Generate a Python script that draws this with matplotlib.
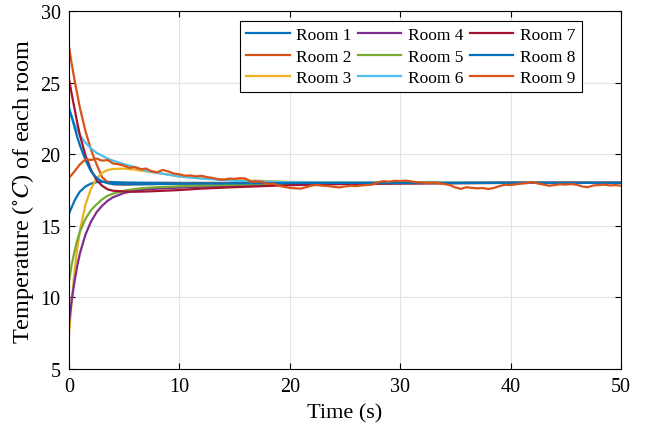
import numpy as np
import matplotlib
matplotlib.use("Agg")
import matplotlib.pyplot as plt

plt.rcParams['font.family'] = ['Liberation Serif', 'DejaVu Serif']
plt.rcParams['mathtext.fontset'] = 'stix'

# ------------------------------------------------------------
# Data
# ------------------------------------------------------------
t_smooth = [0, 0.25, 0.5, 0.75, 1, 1.5, 2, 2.5, 3, 3.5, 4, 5, 6, 7, 8,
            10, 12, 15, 20, 25, 30, 40, 50]

room1 = [15.85, 16.3, 16.75, 17.1, 17.4, 17.75, 17.95, 18.05, 18.08, 18.07,
         18.05, 18.03, 18.02, 18.01, 18.01, 18.0, 18.0, 18.0, 18.0, 18.0,
         18.0, 18.0, 18.0]
room2 = [27.5, 26.3, 25.2, 24.2, 23.2, 21.6, 20.3, 19.3, 18.4, 18.05,
         17.9, 17.88, 17.9, 17.91, 17.93, 17.95, 17.96, 17.98, 18.0, 18.0,
         18.0, 18.0, 18.0]
room3 = [7.4, 9.8, 11.8, 13.4, 14.7, 16.5, 17.6, 18.3, 18.7, 18.9,
         18.97, 19.0, 18.92, 18.8, 18.7, 18.45, 18.33, 18.2, 18.07, 18.03,
         18.01, 18.0, 18.0]
room4 = [8.2, 9.8, 11.1, 12.2, 13.1, 14.4, 15.3, 15.95, 16.4, 16.75,
         17.0, 17.3, 17.45, 17.55, 17.6, 17.67, 17.73, 17.8, 17.88, 17.94,
         17.97, 18.0, 18.0]
room5 = [11.1, 12.3, 13.2, 14.0, 14.6, 15.5, 16.1, 16.5, 16.85, 17.1,
         17.25, 17.45, 17.58, 17.65, 17.7, 17.76, 17.81, 17.87, 17.93, 17.96,
         17.98, 18.0, 18.0]
room6 = [23.2, 22.6, 22.1, 21.7, 21.3, 20.8, 20.4, 20.1, 19.9, 19.7,
         19.55, 19.3, 19.1, 18.85, 18.7, 18.45, 18.3, 18.15, 18.05, 18.02,
         18.01, 18.0, 18.0]
room7 = [25.25, 24.2, 23.2, 22.2, 21.3, 19.9, 18.9, 18.2, 17.8, 17.55,
         17.45, 17.4, 17.38, 17.4, 17.43, 17.5, 17.6, 17.7, 17.84, 17.92,
         17.96, 18.0, 18.0]
room8 = [23.2, 22.6, 21.9, 21.2, 20.6, 19.6, 18.8, 18.35, 18.1, 17.98,
         17.92, 17.9, 17.9, 17.91, 17.92, 17.94, 17.95, 17.97, 17.99, 18.0,
         18.0, 18.0, 18.0]

# Room 9 is noisy, sampled every 0.5 s
t_room9 = list(np.arange(0, 50.01, 0.5))
room9 = [18.35, 18.8, 19.3, 19.65, 19.6, 19.7, 19.55, 19.6, 19.35, 19.3,
         19.2, 19.05, 19.1, 18.95, 19.0, 18.8, 18.75, 18.9, 18.8, 18.65,
         18.6, 18.5, 18.52, 18.45, 18.5, 18.4, 18.35, 18.25, 18.22, 18.3,
         18.28, 18.33, 18.3, 18.08, 18.1, 18.07, 17.92, 17.95, 17.8, 17.72,
         17.65, 17.62, 17.6, 17.7, 17.82, 17.85, 17.8, 17.78, 17.72, 17.68,
         17.75, 17.8, 17.78, 17.82, 17.85, 17.88, 18.05, 18.12, 18.08, 18.15,
         18.12, 18.16, 18.1, 18.05, 18.02, 18.0, 18.02, 17.98, 17.92, 17.85,
         17.68, 17.58, 17.7, 17.65, 17.62, 17.64, 17.57, 17.65, 17.78, 17.87,
         17.85, 17.9, 17.95, 17.98, 18.05, 17.95, 17.88, 17.8, 17.85, 17.9,
         17.88, 17.92, 17.87, 17.75, 17.7, 17.82, 17.85, 17.88, 17.82, 17.85,
         17.8]

labels = ["Room %d" % i for i in range(1, 10)]
colors = ['#0072BD', '#D95319', '#EDB120', '#7E2F8E', '#77AC30',
          '#4DBEEE', '#A2142F', '#0072BD', '#D95319']

# ------------------------------------------------------------
# Plot
# ------------------------------------------------------------
fig = plt.figure(figsize=(6.55, 4.31), dpi=100)
ax = fig.add_axes([0.1053, 0.1415, 0.8427, 0.8305])

smooth = [room1, room2, room3, room4, room5, room6, room7, room8]
for k, series in enumerate(smooth):
    ax.plot(t_smooth, series, color=colors[k], lw=1.6, label=labels[k])
ax.plot(t_room9, room9, color=colors[8], lw=1.6, label=labels[8])

ax.set_xlim(0, 50)
ax.set_ylim(5, 30)
ax.set_xticks([0, 10, 20, 30, 40, 50])
ax.set_yticks([5, 10, 15, 20, 25, 30])
ax.grid(True, color='#e3e3e3', lw=0.8)
ax.set_axisbelow(True)
ax.tick_params(direction='in', top=True, right=True, labelsize=14.5,
               length=4, width=0.8, pad=6)
for sp in ax.spines.values():
    sp.set_linewidth(0.8)

ax.set_xlabel("Time (s)", fontsize=16, labelpad=5)
ax.set_ylabel(r"Temperature ($^{\circ}C$) of each room", fontsize=17.5,
              labelpad=3)

leg = ax.legend(ncol=3, loc='upper right', bbox_to_anchor=(0.929, 0.972),
                borderaxespad=0, fontsize=12.5, frameon=True, fancybox=False,
                framealpha=1, edgecolor='black', handlelength=2.5,
                columnspacing=0.35, handletextpad=0.4, labelspacing=0.3,
                borderpad=0.35)
leg.get_frame().set_linewidth(0.8)

fig.savefig("out.png", dpi=100)
